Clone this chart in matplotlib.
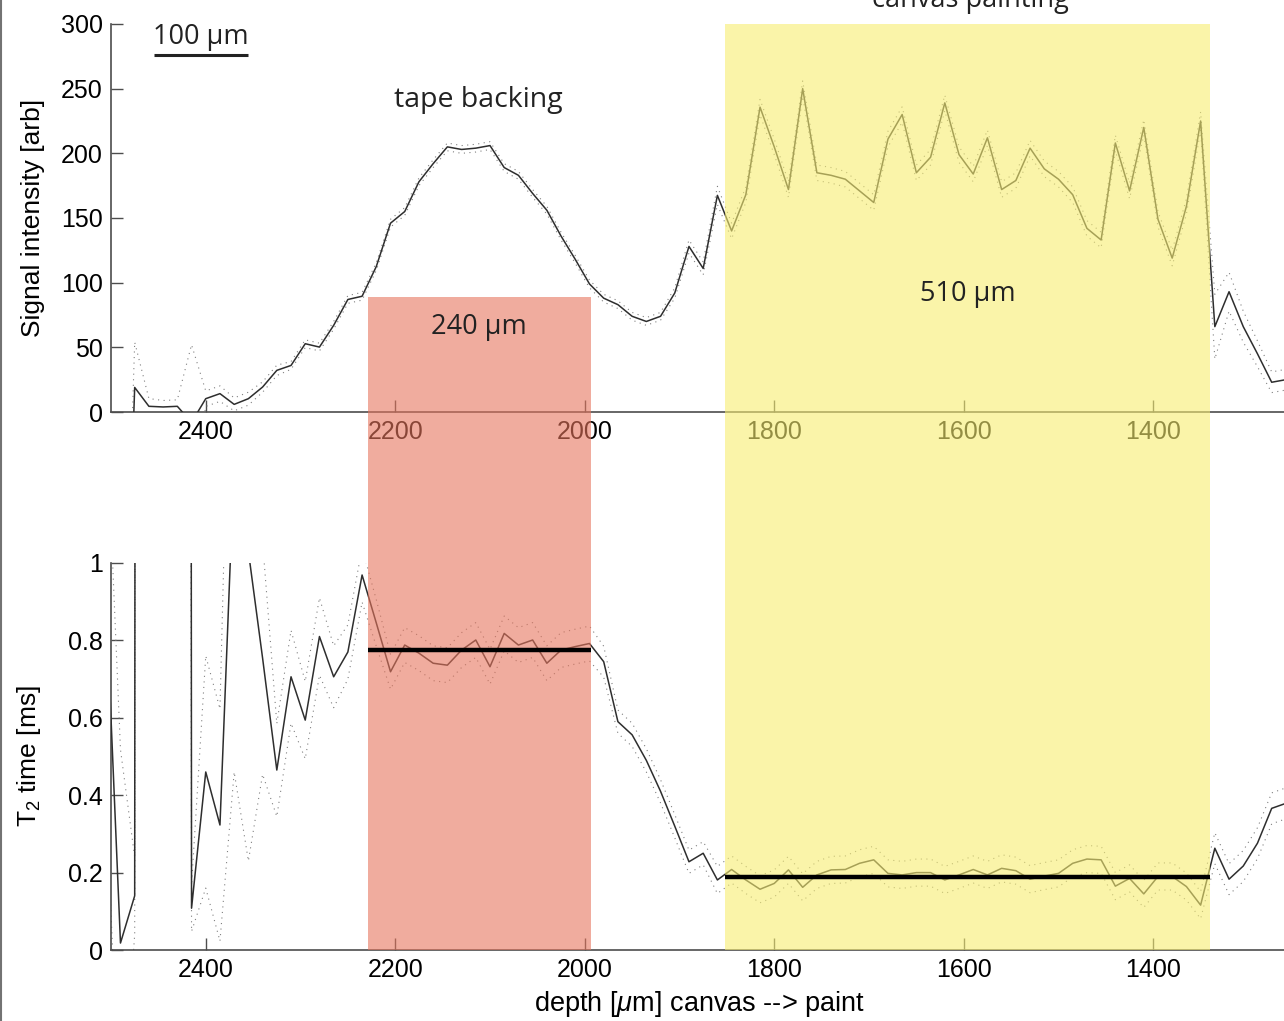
import matplotlib
matplotlib.use("Agg")
import matplotlib.pyplot as plt
import numpy as np
from matplotlib.patches import Rectangle
from matplotlib.lines import Line2D
from matplotlib.transforms import blended_transform_factory

plt.rcParams['font.family'] = ['Liberation Sans', 'DejaVu Sans']
plt.rcParams['mathtext.fontset'] = 'custom'
plt.rcParams['mathtext.rm'] = 'Liberation Sans'
plt.rcParams['mathtext.it'] = 'Liberation Sans:italic'

# ---------------- data ----------------
depth = [2505, 2490, 2475, 2460, 2445, 2430, 2415, 2400, 2385, 2370, 2355, 2340,
         2325, 2310, 2295, 2280, 2265, 2250, 2235, 2220, 2205, 2190, 2175, 2160,
         2145, 2130, 2115, 2100, 2085, 2070, 2055, 2040, 2025, 2010, 1995, 1980,
         1965, 1950, 1935, 1920, 1905, 1890, 1875, 1860, 1845, 1830, 1815, 1800,
         1785, 1770, 1755, 1740, 1725, 1710, 1695, 1680, 1665, 1650, 1635, 1620,
         1605, 1590, 1575, 1560, 1545, 1530, 1515, 1500, 1485, 1470, 1455, 1440,
         1425, 1410, 1395, 1380, 1365, 1350, 1335, 1320, 1305, 1290, 1275, 1260]

signal = [-200, -300, 19, 4.4, 3.9, 4.4, -8, 10.3, 14.2, 5.9, 10.3, 19.3,
          32.2, 36, 52.8, 50.2, 67, 87, 89.5, 112.5, 146, 155, 178, 192,
          205, 203, 204, 206, 189, 183, 169, 156, 136, 118, 99, 88,
          83, 74, 70, 74, 92, 128, 111, 167.5, 140, 168, 235.7, 205,
          172, 250, 185, 183, 180, 171, 162, 211, 230, 185, 197, 239,
          199, 184, 212, 172, 179, 204, 188, 180, 168, 142, 133, 208,
          171, 220, 149, 119, 159, 225, 66, 93, 66, 45, 23, 25]

signal_err = [0, 0, 35, 6, 5, 5, 60, 6, 6, 5, 5, 4,
              4, 3, 3, 3, 3, 3, 3, 3, 3, 3, 3, 3,
              3, 3, 3, 3, 3, 3, 3, 3, 3, 3, 3, 3,
              3, 3, 3, 3, 4, 5, 5, 7, 6, 6, 6, 6,
              6, 6, 6, 6, 6, 6, 6, 6, 6, 6, 6, 6,
              6, 6, 6, 6, 6, 6, 6, 6, 6, 6, 6, 6,
              6, 6, 6, 6, 6, 7, 25, 15, 12, 10, 8, 8]

t2 = [0.89, 0.018, 0.14, 50, 50, 50, 0.108, 0.46, 0.323, 1.26, 1.03, 0.754,
      0.465, 0.706, 0.594, 0.81, 0.706, 0.77, 0.969, 0.845, 0.719, 0.788, 0.767, 0.741,
      0.736, 0.775, 0.801, 0.732, 0.818, 0.788, 0.801, 0.741, 0.775, 0.784, 0.792, 0.745,
      0.59, 0.556, 0.49, 0.41, 0.32, 0.228, 0.25, 0.181, 0.208, 0.181, 0.157, 0.172,
      0.207, 0.162, 0.194, 0.207, 0.208, 0.224, 0.233, 0.198, 0.194, 0.2, 0.2, 0.181,
      0.194, 0.208, 0.194, 0.211, 0.205, 0.183, 0.191, 0.198, 0.224, 0.235, 0.233, 0.165,
      0.185, 0.145, 0.19, 0.19, 0.164, 0.116, 0.263, 0.183, 0.217, 0.276, 0.366, 0.379]

t2_err = [0.5, 0.5, 0.1, 0, 0, 0, 0.06, 0.3, 0.3, 0.8, 0.8, 0.3,
          0.12, 0.12, 0.1, 0.1, 0.08, 0.07, 0.07, 0.06, 0.045, 0.045, 0.045, 0.045,
          0.045, 0.045, 0.045, 0.045, 0.045, 0.045, 0.045, 0.045, 0.045, 0.045, 0.045, 0.04,
          0.03, 0.03, 0.03, 0.03, 0.03, 0.03, 0.03, 0.035, 0.035, 0.035, 0.035, 0.035,
          0.035, 0.035, 0.035, 0.035, 0.035, 0.035, 0.035, 0.035, 0.035, 0.035, 0.035, 0.035,
          0.035, 0.035, 0.035, 0.035, 0.035, 0.035, 0.035, 0.035, 0.035, 0.035, 0.035, 0.035,
          0.035, 0.035, 0.035, 0.035, 0.035, 0.035, 0.04, 0.04, 0.04, 0.04, 0.04, 0.04]

# layer regions
region_start = [2229, 1852]
region_end = [1993, 1340]
region_mean_t2 = [0.775, 0.189]
region_labels = ['240 µm', '510 µm']
region_label_x = [2112, 1596]
region_label_signal = [66, 91]
region_top_signal = [89, 300]
region_colors = ['#E6755D', '#F7ED71']

top_xticks = [2400, 2200, 2000, 1800, 1600, 1400]
top_yticks = [0, 50, 100, 150, 200, 250, 300]
bot_yticks = [0, 0.2, 0.4, 0.6, 0.8, 1]
bot_yticklabels = ['0', '0.2', '0.4', '0.6', '0.8', '1']

scalebar_start = 2455
scalebar_len = 100

depth = np.array(depth, float)
signal = np.array(signal, float)
signal_err = np.array(signal_err, float)
t2 = np.array(t2, float)
t2_err = np.array(t2_err, float)

# ---------------- figure ----------------
W, H = 1284, 1021
fig = plt.figure(figsize=(W / 100, H / 100), dpi=100)
fig.patch.set_facecolor('white')

L = 111 / W
ax_top = fig.add_axes([L, 1 - 412 / H, 1 - L, 388 / H])
ax_bot = fig.add_axes([L, 1 - 950 / H, 1 - L, 387 / H])

line_col = '#2e2e2e'
for ax, y, e in ((ax_top, signal, signal_err), (ax_bot, t2, t2_err)):
    ax.plot(depth, y, color=line_col, lw=1.1, zorder=3)
    ax.plot(depth, y + e, ls=(0, (1, 4)), color='0.5', lw=0.8, zorder=2)
    ax.plot(depth, y - e, ls=(0, (1, 4)), color='0.5', lw=0.8, zorder=2)
    ax.set_xlim(2500, 1262)
    for s in ('top', 'right'):
        ax.spines[s].set_visible(False)
    for s in ('left', 'bottom'):
        ax.spines[s].set_color('0.3')
        ax.spines[s].set_linewidth(1.2)
    ax.tick_params(direction='in', length=8.5, width=1, color='0.3',
                   labelsize=18, pad=6)
    ax.set_xticks(top_xticks)
    ax.patch.set_alpha(0)

ax_top.set_ylim(0, 300)
ax_top.set_yticks(top_yticks)
ax_bot.set_ylim(0, 1)
ax_bot.set_yticks(bot_yticks)
ax_bot.set_yticklabels(bot_yticklabels)

ax_top.set_ylabel('Signal intensity [arb]', fontsize=19)
ax_top.yaxis.set_label_coords(-0.056, 0.5)
ax_bot.set_ylabel('T$_2$ time [ms]', fontsize=19)
ax_bot.yaxis.set_label_coords(-0.058, 0.5)
ax_bot.set_xlabel(r'depth [$\mu$m] canvas --> paint', fontsize=19.5)
ax_bot.xaxis.set_label_coords(0.502, -0.1)

# scale bar
ax_top.plot([scalebar_start, scalebar_start - scalebar_len], [276, 276],
            color='#222222', lw=2.2, solid_capstyle='butt', clip_on=False)
ax_top.text(scalebar_start - scalebar_len / 2, 279, '100 µm', ha='center',
            va='bottom', fontsize=19.5, family=['Open Sans', 'DejaVu Sans'],
            color='#222222')
ax_top.text(2112, 241, 'tape backing', ha='center', va='center',
            fontsize=20.5, family=['Open Sans', 'DejaVu Sans'], color='#222222')

# layer rectangles spanning both panels (overlay, semi-transparent)
bt = blended_transform_factory(ax_top.transData, fig.transFigure)
y_bottom_fig = 1 - 950 / H
for x0, x1, ytop, c in zip(region_start, region_end, region_top_signal, region_colors):
    ytop_fig = fig.transFigure.inverted().transform(
        ax_top.transData.transform((x0, ytop)))[1]
    r = Rectangle((x0, y_bottom_fig), x1 - x0, ytop_fig - y_bottom_fig,
                  transform=bt, facecolor=c, edgecolor='none', alpha=0.6,
                  zorder=3)
    fig.add_artist(r)

# mean T2 lines on top
for x0, x1, m in zip(region_start, region_end, region_mean_t2):
    ln = Line2D([x0, x1], [m, m], transform=ax_bot.transData, color='black',
                lw=3.2, zorder=4, solid_capstyle='butt')
    fig.add_artist(ln)

# region labels
for xl, lab, ys in zip(region_label_x, region_labels, region_label_signal):
    fig.text(xl, ys, lab, transform=ax_top.transData, ha='center', va='center',
             fontsize=19.5, family=['Open Sans', 'DejaVu Sans'],
             color='#222222', zorder=5)

# top (cut-off) heading, partly outside the figure as in the source
fig.text(970 / W, 1 - 7 / H, 'canvas painting', ha='center', va='baseline',
         fontsize=19.5, family=['Open Sans', 'DejaVu Sans'], color='#222222',
         zorder=5)

# left frame edge
fig.add_artist(Line2D([0.001, 0.001], [0, 1], transform=fig.transFigure,
                      color='0.45', lw=1.5))

fig.savefig('out.png', dpi=100)
